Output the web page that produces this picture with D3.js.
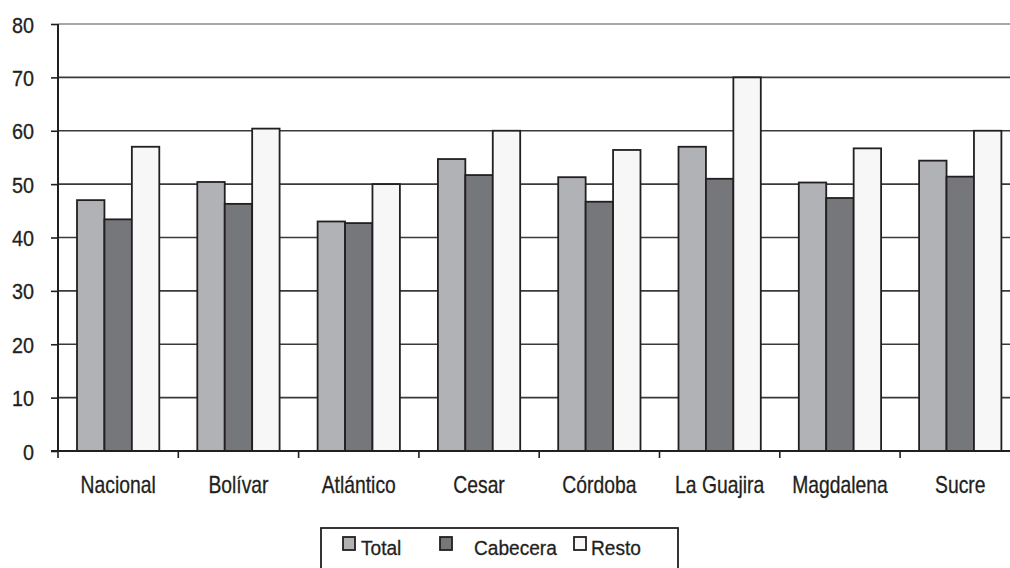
<!DOCTYPE html>
<html><head><meta charset="utf-8">
<script src="https://cdn.jsdelivr.net/npm/d3@7"></script>
<style>
body{margin:0;background:#fff;}
svg{display:block;}
text{font-family:"Liberation Sans",Arial,sans-serif;fill:#231f20;stroke:#231f20;stroke-width:0.3;}
</style></head>
<body>
<svg id="c" width="1010" height="568"></svg>
<script>
const categories = ["Nacional","Bolívar","Atlántico","Cesar","Córdoba","La Guajira","Magdalena","Sucre"];
const seriesNames = ["Total","Cabecera","Resto"];
const total    = [47.0, 50.4, 43.0, 54.7, 51.3, 57.0, 50.3, 54.4];
const cabecera = [43.4, 46.3, 42.7, 51.7, 46.7, 51.0, 47.4, 51.4];
const resto    = [57.0, 60.4, 50.0, 60.0, 56.4, 70.0, 56.7, 60.0];
const yTicks = [0,10,20,30,40,50,60,70,80];
const colors = ["#b1b2b6","#76777b","#f7f7f7"];
const seriesValues = [total, cabecera, resto];

const svg = d3.select("#c");
const x0 = 58, step = 120.3;
const x = d3.scaleBand().domain(categories).range([x0, x0 + step*categories.length]).paddingInner(0.316).paddingOuter(0.158);
const xs = d3.scaleBand().domain(seriesNames).range([0, x.bandwidth()]);
const y = d3.scaleLinear().domain([0,80]).range([451,24]);

// gridlines
svg.append("g").selectAll("line").data(yTicks.filter(d=>d>0)).join("line")
  .attr("x1", x0).attr("x2", 1010).attr("y1", d=>y(d)).attr("y2", d=>y(d))
  .attr("stroke", d=>d===80?"#8a8a8a":"#3a3a3a").attr("stroke-width",1.6);

// bars
const g = svg.append("g").selectAll("g").data(categories).join("g")
  .attr("transform", d=>`translate(${x(d)},0)`);
g.selectAll("rect").data((c,i)=>seriesNames.map((s,j)=>({s, v: seriesValues[j][i], j})))
  .join("rect")
  .attr("x", d=>xs(d.s)).attr("width", xs.bandwidth())
  .attr("y", d=>y(d.v)).attr("height", d=>y(0)-y(d.v))
  .attr("fill", d=>colors[d.j]).attr("stroke","#231f20").attr("stroke-width",1.8);

// y axis
const yAxis = d3.axisLeft(y).tickValues(yTicks).tickSize(7).tickFormat("");
const ya = svg.append("g").attr("transform",`translate(${x0},0)`).call(yAxis);
ya.select(".domain").attr("stroke","#231f20").attr("stroke-width",2).attr("d",`M0,${y(80)}V${y(0)}`);
ya.selectAll(".tick line").attr("stroke","#231f20").attr("stroke-width",1.6);
svg.append("g").selectAll("text").data(yTicks).join("text")
  .attr("transform", d=>`translate(34,${y(d)+8.5}) scale(0.9,1)`)
  .attr("text-anchor","end").attr("font-size",22).text(d=>d);

// x axis
const xa = svg.append("g").attr("transform",`translate(0,${y(0)})`);
xa.append("line").attr("x1",x0-7).attr("x2",1010).attr("y1",0).attr("y2",0).attr("stroke","#231f20").attr("stroke-width",2);
const tickPos = d3.range(categories.length+1).map(i=>x0 + i*step);
xa.selectAll(".tk").data(tickPos).join("line").attr("class","tk")
  .attr("x1",d=>d).attr("x2",d=>d).attr("y1",0).attr("y2",7).attr("stroke","#231f20").attr("stroke-width",1.6);
xa.selectAll(".lb").data(categories).join("text").attr("class","lb")
  .attr("transform",d=>`translate(${x(d)+x.bandwidth()/2},42) scale(0.84,1)`)
  .attr("text-anchor","middle").attr("font-size",23).text(d=>d);

// legend
const lg = svg.append("g");
lg.append("rect").attr("x",321).attr("y",528).attr("width",357).attr("height",50).attr("fill","#fff").attr("stroke","#231f20").attr("stroke-width",1.8);
const legX = [343, 440, 574];
const legTX = [361, 474, 591];
seriesNames.forEach((s,j)=>{
  lg.append("rect").attr("x",legX[j]).attr("y",537).attr("width",12).attr("height",13)
    .attr("fill",colors[j]).attr("stroke","#231f20").attr("stroke-width",1.8);
  lg.append("text").attr("transform",`translate(${legTX[j]},555) scale(0.91,1)`).attr("font-size",21).text(s);
});
</script>
</body></html>
